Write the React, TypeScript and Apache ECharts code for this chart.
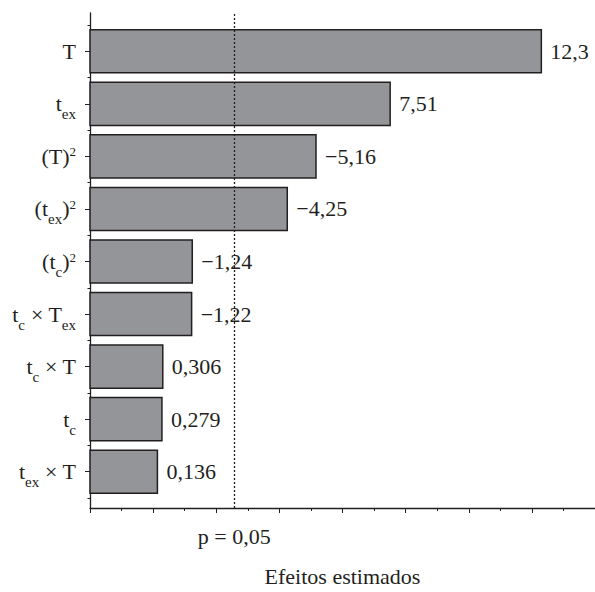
import React, { useEffect, useRef } from "react";
import * as echarts from "echarts";

// ---- data ----
const CATEGORIES = [
  "T",
  "t{sub|ex}",
  "(T){sup|2}",
  "(t{sub|ex}){sup|2}",
  "(t{sub|c}){sup|2}",
  "t{sub|c} × T{sub|ex}",
  "t{sub|c} × T",
  "t{sub|c}",
  "t{sub|ex} × T",
];
const EFFECTS = [12.3, 7.51, -5.16, -4.25, -1.24, -1.22, 0.306, 0.279, 0.136];
const P_LINE_VALUE = 2.57;
const P_LINE_LABEL = "p = 0,05";
const X_AXIS_NAME = "Efeitos estimados";

const X_MIN = -2;
const X_MAX = 14;
const X_INTERVAL = 2;

const FONT = "Liberation Serif";
const INK = "#231f20";
const BAR_FILL = "#939598";

const fmt = (v: number) => String(v).replace(".", ",").replace("-", "\u2212");

export default function App() {
  const ref = useRef<HTMLDivElement>(null);

  useEffect(() => {
    document.body.style.margin = "0";
    if (!ref.current) return;
    const chart = echarts.init(ref.current, null, { renderer: "svg" });

    const option: any = {
      animation: false,
      backgroundColor: "#ffffff",
      textStyle: { fontFamily: FONT },
      grid: [
        { left: 90, right: 0, top: 25, bottom: 94, containLabel: false },
        { left: 90, right: 0, top: 13, bottom: 81, containLabel: false },
      ],
      xAxis: [
        { gridIndex: 0, type: "value", min: X_MIN, max: X_MAX, show: false },
        {
          gridIndex: 1,
          type: "value",
          min: X_MIN,
          max: X_MAX,
          interval: X_INTERVAL,
          axisLine: { show: true, onZero: false, lineStyle: { color: INK, width: 1.3 } },
          axisTick: { show: true, length: 5, lineStyle: { color: INK, width: 1 } },
          minorTick: { show: true, splitNumber: 2, length: 3, lineStyle: { color: INK, width: 1 } },
          axisLabel: { show: false },
          splitLine: { show: false },
          minorSplitLine: { show: false },
          name: X_AXIS_NAME,
          nameLocation: "middle",
          nameGap: 57,
          nameTextStyle: { fontFamily: FONT, fontSize: 22, color: INK },
        },
      ],
      yAxis: [
        {
          gridIndex: 0,
          type: "category",
          position: "left",
          inverse: true,
          data: CATEGORIES,
          axisLine: { show: false, onZero: false },
          axisTick: { show: true, alignWithLabel: true, interval: 0, length: 5, lineStyle: { color: INK, width: 1 } },
          axisLabel: {
            interval: 0,
            margin: 14,
            fontFamily: FONT,
            fontSize: 22,
            color: INK,
            rich: {
              sub: { fontFamily: FONT, fontSize: 15, color: INK, padding: [21, 0, 0, 0] },
              sup: { fontFamily: FONT, fontSize: 13, color: INK, padding: [0, 0, 9, 0] },
            },
          },
          splitLine: { show: false },
        },
        {
          gridIndex: 1,
          type: "value",
          position: "left",
          min: 0,
          max: 1,
          axisLine: { show: true, onZero: false, lineStyle: { color: INK, width: 1.3 } },
          axisTick: { show: false },
          axisLabel: { show: false },
          splitLine: { show: false },
        },
        {
          gridIndex: 0,
          type: "category",
          position: "left",
          inverse: true,
          data: CATEGORIES,
          axisLine: { show: false, onZero: false },
          axisTick: { show: true, alignWithLabel: false, interval: 0, length: 2.5, lineStyle: { color: INK, width: 1 } },
          axisLabel: { show: false, interval: 0 },
          splitLine: { show: false },
        },
      ],
      series: [
        {
          type: "custom",
          xAxisIndex: 0,
          yAxisIndex: 0,
          encode: { x: 0, y: 1 },
          data: EFFECTS.map((v, i) => [Math.abs(v), i]),
          renderItem: (params: any, api: any) => {
            const mag = api.value(0);
            const idx = api.value(1);
            const start = api.coord([X_MIN, idx]);
            const end = api.coord([mag, idx]);
            const band = api.size([0, 1])[1];
            const h = band * 0.82;
            return {
              type: "group",
              children: [
                {
                  type: "rect",
                  shape: { x: start[0], y: start[1] - h / 2, width: end[0] - start[0], height: h },
                  style: { fill: BAR_FILL, stroke: INK, lineWidth: 1.5 },
                },
                {
                  type: "text",
                  x: end[0] + 9,
                  y: end[1],
                  style: {
                    text: fmt(EFFECTS[params.dataIndex]),
                    fontFamily: FONT,
                    fontSize: 22,
                    fill: INK,
                    align: "left",
                    verticalAlign: "middle",
                  },
                },
              ],
            };
          },
        },
        {
          type: "line",
          xAxisIndex: 1,
          yAxisIndex: 1,
          data: [],
          markLine: {
            silent: true,
            symbol: ["none", "none"],
            lineStyle: { type: [2, 2], color: INK, width: 1.3 },
            label: {
              show: true,
              position: "start",
              distance: 17,
              formatter: P_LINE_LABEL,
              fontFamily: FONT,
              fontSize: 22,
              color: INK,
            },
            data: [{ xAxis: P_LINE_VALUE }],
          },
        },
      ],
    };

    chart.setOption(option);
    return () => chart.dispose();
  }, []);

  return <div ref={ref} style={{ width: 595, height: 592 }} />;
}
